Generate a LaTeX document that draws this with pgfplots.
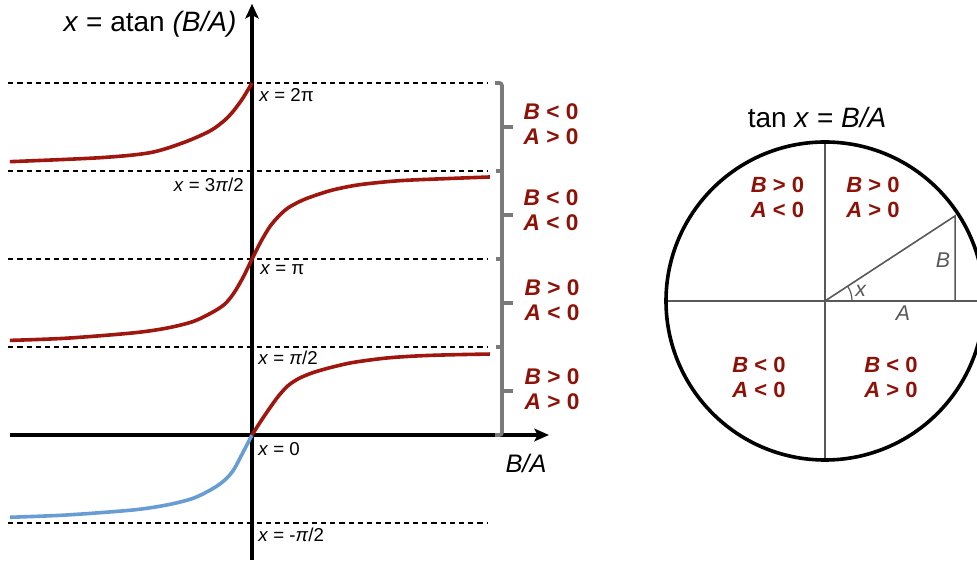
\documentclass[border=0pt]{standalone}
\usepackage{pgfplots}
\pgfplotsset{compat=1.18}
\usepackage{fontspec}
\setmainfont{Liberation Sans}
\usetikzlibrary{arrows.meta}
\definecolor{curvered}{RGB}{158,22,14}
\definecolor{labelred}{RGB}{140,18,8}
\definecolor{curveblue}{RGB}{104,156,212}
\definecolor{brackgray}{RGB}{122,122,122}
\definecolor{circgray}{RGB}{88,88,88}
\begin{document}
\begin{tikzpicture}
\useasboundingbox (0,0) rectangle (732.75pt,422.25pt);
\clip (0,0) rectangle (732.75pt,422.25pt);
% ---------------- left: x = atan(B/A) ----------------
\begin{axis}[at={(0pt,0pt)}, anchor=south west, scale only axis,
  width=420pt, height=422.25pt,
  xmin=-8.4, xmax=10.2667, ymin=-1.4545, ymax=4.9432,
  hide axis, clip=false]
% asymptote / level lines
\addplot[black, line width=1.0pt, dash pattern=on 3.9pt off 3pt] coordinates {(-8.13,4) (7.87,4)};
\addplot[black, line width=1.0pt, dash pattern=on 3.9pt off 3pt] coordinates {(-8.13,3) (7.87,3)};
\addplot[black, line width=1.0pt, dash pattern=on 3.9pt off 3pt] coordinates {(-8.13,2) (7.87,2)};
\addplot[black, line width=1.0pt, dash pattern=on 3.9pt off 3pt] coordinates {(-8.13,1) (7.87,1)};
\addplot[black, line width=1.0pt, dash pattern=on 3.9pt off 3pt] coordinates {(-8.13,-1) (7.87,-1)};
% axes
\draw[line width=2.6pt, -{Stealth[length=11pt,width=9.5pt,inset=2.5pt]}] (axis cs:-8.07,0) -- (axis cs:9.9,0);
\draw[line width=2.6pt, -{Stealth[length=11pt,width=10pt,inset=2.5pt]}] (axis cs:0,-1.42) -- (axis cs:0,4.9);
% bracket
\draw[brackgray, line width=2.8pt, rounded corners=2pt] (axis cs:8.1,4) -- (axis cs:8.333,4) -- (axis cs:8.333,0) -- (axis cs:8.1,0);
\draw[brackgray, line width=2.8pt] (axis cs:8.12,3) -- (axis cs:8.333,3);
\draw[brackgray, line width=2.8pt] (axis cs:8.12,2) -- (axis cs:8.333,2);
\draw[brackgray, line width=2.8pt] (axis cs:8.12,1) -- (axis cs:8.333,1);
\draw[brackgray, line width=2.8pt] (axis cs:8.333,3.5) -- (axis cs:8.7,3.5);
\draw[brackgray, line width=2.8pt] (axis cs:8.333,2.5) -- (axis cs:8.7,2.5);
\draw[brackgray, line width=2.8pt] (axis cs:8.333,1.5) -- (axis cs:8.7,1.5);
\draw[brackgray, line width=2.8pt] (axis cs:8.333,0.5) -- (axis cs:8.7,0.5);
% curves
\addplot[curveblue, line width=2.7pt, smooth] coordinates {
 (-8.07,-0.935) (-6.18,-0.909) (-3.97,-0.852) (-2.84,-0.795) (-1.96,-0.719)
 (-1.29,-0.606) (-0.9,-0.51) (-0.62,-0.40) (-0.35,-0.23) (0,0)};
\addplot[curvered, line width=2.7pt, smooth] coordinates {
 (0,0) (0.3,0.16) (0.6,0.31) (0.9,0.45) (1.2,0.56) (1.55,0.64) (2.0,0.705)
 (2.6,0.765) (3.38,0.825) (4.49,0.875) (5.6,0.9) (6.7,0.912) (7.93,0.92)};
\addplot[curvered, line width=2.7pt, smooth] coordinates {
 (-8.07,1.075) (-6.18,1.10) (-3.97,1.16) (-2.84,1.215) (-1.96,1.29)
 (-1.29,1.40) (-0.9,1.49) (-0.6,1.615) (-0.3,1.79) (0,2)};
\addplot[curvered, line width=2.7pt, smooth] coordinates {
 (0,2) (0.3,2.2) (0.6,2.37) (0.9,2.49) (1.2,2.58) (1.6,2.655) (2.0,2.71)
 (2.7,2.785) (3.6,2.845) (4.93,2.89) (6.6,2.915) (7.93,2.932)};
\addplot[curvered, line width=2.7pt, smooth] coordinates {
 (-8.07,3.106) (-5.07,3.151) (-3.4,3.208) (-2.29,3.322) (-1.4,3.455)
 (-0.9,3.58) (-0.6,3.69) (-0.3,3.83) (0,4)};
% texts
\node[font=\fontsize{21}{25}\selectfont] at (axis cs:-3.4,4.67) {\textit{x} = atan \textit{(B/A)}};
\node[font=\fontsize{19}{22}\selectfont] at (axis cs:9.133,-0.318) {\textit{B/A}};
\begin{scope}[every node/.style={inner sep=0pt, font=\fontsize{14}{16}\selectfont}]
\node[anchor=west] at (axis cs:0.233,3.864) {\textit{x} = 2π};
\node[anchor=east] at (axis cs:-0.267,2.841) {\textit{x} = 3\textit{π}/2};
\node[anchor=west] at (axis cs:0.267,1.875) {\textit{x} = π};
\node[anchor=west] at (axis cs:0.2,0.875) {\textit{x} = \textit{π}/2};
\node[anchor=west] at (axis cs:0.2,-0.159) {\textit{x} = 0};
\node[anchor=west] at (axis cs:0.2,-1.136) {\textit{x} = -\textit{π}/2};
\end{scope}
\begin{scope}[every node/.style={align=center, inner sep=0pt, text=labelred, font=\bfseries\fontsize{17}{18.75}\selectfont}]
\node at (axis cs:9.967,3.528) {\textit{B} < 0\\\textit{A} > 0};
\node at (axis cs:9.967,2.551) {\textit{B} < 0\\\textit{A} < 0};
\node at (axis cs:10.0,1.528) {\textit{B} > 0\\\textit{A} < 0};
\node at (axis cs:10.0,0.517) {\textit{B} > 0\\\textit{A} > 0};
\end{scope}
\end{axis}
% ---------------- right: unit circle ----------------
\begin{axis}[at={(420pt,0pt)}, anchor=south west, scale only axis,
  width=312.75pt, height=422.25pt,
  xmin=-1.6667, xmax=0.9560, ymin=-1.6478, ymax=1.8931,
  hide axis, clip=false]
\draw[circgray, line width=1.2pt] (axis cs:-1,0) -- (axis cs:1,0);
\draw[circgray, line width=1.2pt] (axis cs:0,-1) -- (axis cs:0,1);
\draw[circgray, line width=1.2pt] (axis cs:0,0) -- (axis cs:0.818,0.535) -- (axis cs:0.818,0);
\draw[circgray, line width=0.9pt] (axis cs:0.17,0) arc[start angle=0, end angle=33.2, radius=20.25pt];
\draw[black, line width=2.7pt] (axis cs:0,0) circle[radius=119.25pt];
\node[font=\fontsize{21}{25}\selectfont] at (axis cs:-0.05,1.151) {tan \textit{x} = \textit{B/A}};
\begin{scope}[every node/.style={text=circgray, inner sep=0pt, font=\itshape\fontsize{16}{18}\selectfont}]
\node at (axis cs:0.225,0.065) {x};
\node at (axis cs:0.742,0.258) {B};
\node at (axis cs:0.49,-0.077) {A};
\end{scope}
\begin{scope}[every node/.style={align=center, inner sep=0pt, text=labelred, font=\bfseries\fontsize{16.5}{18.75}\selectfont}]
\node at (axis cs:-0.299,0.651) {\textit{B} > 0\\\textit{A} < 0};
\node at (axis cs:0.302,0.651) {\textit{B} > 0\\\textit{A} > 0};
\node at (axis cs:-0.415,-0.481) {\textit{B} < 0\\\textit{A} < 0};
\node at (axis cs:0.415,-0.481) {\textit{B} < 0\\\textit{A} > 0};
\end{scope}
\end{axis}
\end{tikzpicture}
\end{document}
